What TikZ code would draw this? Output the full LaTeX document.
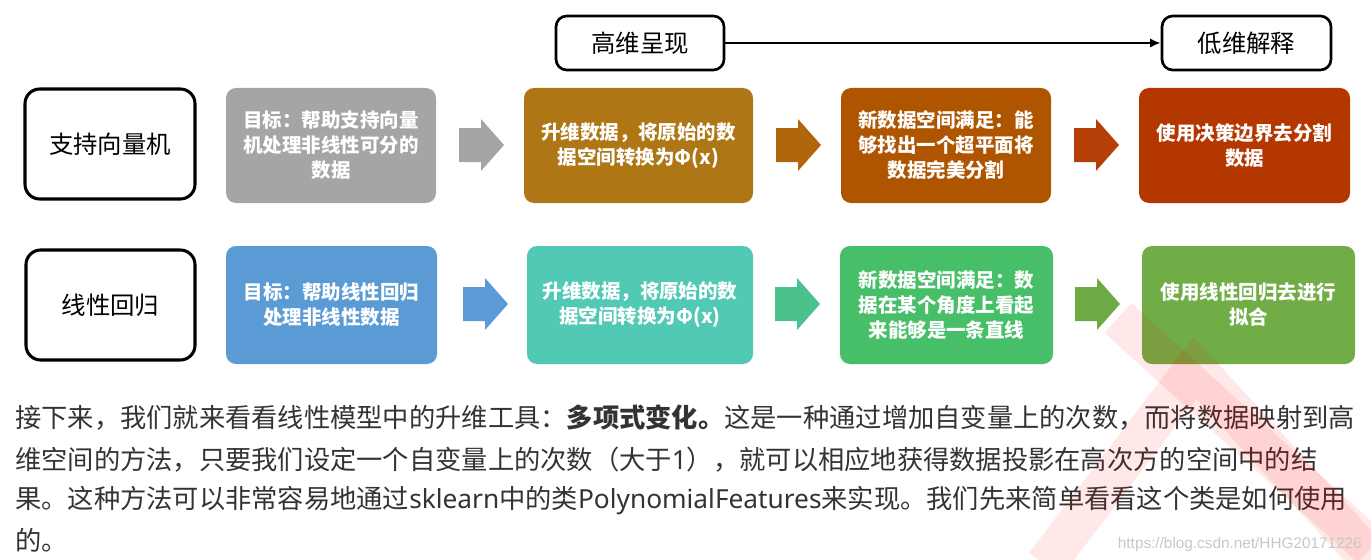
\documentclass[tikz,border=0pt]{standalone}
\usepackage{fontspec}
\setmainfont{Noto Sans CJK SC}
\newfontfamily\latn{Noto Sans}
\newfontfamily\wmfont{Liberation Sans}
\usetikzlibrary{arrows.meta}
\definecolor{cgray}{HTML}{A5A5A5}
\definecolor{cgold}{HTML}{AE7614}
\definecolor{cbrown}{HTML}{AF5500}
\definecolor{cred}{HTML}{B43700}
\definecolor{agold}{HTML}{B0660A}
\definecolor{ared}{HTML}{B44008}
\definecolor{cblue}{HTML}{5B9BD5}
\definecolor{cteal}{HTML}{52C9B4}
\definecolor{ateal}{HTML}{4BC28C}
\definecolor{cgreen}{HTML}{47BF69}
\definecolor{aolive}{HTML}{6DAA43}
\definecolor{colive}{HTML}{70AD47}
\definecolor{ctext}{HTML}{333333}
\newcommand\cbox[7]{\node[#6, minimum width={(#4-#2)*0.75pt}, minimum height={(#5-#3)*0.75pt}] (#1) at ({(#2+#4)/2},{(#3+#5)/2}) {#7};}
\newcommand\barrow[3]{\fill[#3] ({#1-22},{#2-17}) -- ({#1},{#2-17}) -- ({#1},{#2-26}) -- ({#1+23},{#2}) -- ({#1},{#2+26}) -- ({#1},{#2+17}) -- ({#1-22},{#2+17}) -- cycle;}
\begin{document}
\begin{tikzpicture}[x=0.75pt,y=-0.75pt,
  outline/.style={draw=black, line width=2.3pt, rounded corners=11pt, fill=white, inner sep=0pt,
    font=\fontsize{18.3}{22}\selectfont},
  toplabel/.style={draw=black, line width=2pt, rounded corners=8pt, fill=white, inner sep=0pt,
    font=\fontsize{18.3}{22}\selectfont},
  fillbox/.style={rounded corners=7.5pt, fill=#1, text=white, align=center, inner sep=0pt,
    font=\bfseries\fontsize{14.6}{18.75}\selectfont},
  para/.style={anchor=base west, inner sep=0pt, text=ctext, font=\fontsize{19.7}{24}\selectfont},
]
\useasboundingbox (0,0) rectangle (1371,560);

% top labels
\cbox{hi}{556}{16}{724}{70}{toplabel}{高维呈现}
\cbox{lo}{1162}{16}{1331}{70}{toplabel}{低维解释}
\draw[line width=1.5pt, -{Latex[length=8pt,width=7pt]}] (hi.east) -- (lo.west);

% row 1
\cbox{svm}{25}{89}{195}{199}{outline}{支持向量机}
\cbox{g1}{226}{88}{436}{203}{fillbox=cgray}{目标：帮助支持向量\\机处理非线性可分的\\数据}
\cbox{g2}{524}{88}{753}{203}{fillbox=cgold}{升维数据，将原始的数\\据空间转换为Φ(x)}
\cbox{g3}{841}{88}{1051}{203}{fillbox=cbrown}{新数据空间满足：能\\够找出一个超平面将\\数据完美分割}
\cbox{g4}{1139}{88}{1350}{203}{fillbox=cred}{使用决策边界去分割\\数据}
\barrow{481}{145}{cgray}
\barrow{798}{145}{agold}
\barrow{1096}{145}{ared}

% row 2
\cbox{lr}{26}{250}{195}{360}{outline}{线性回归}
\cbox{b1}{226}{246}{437}{364}{fillbox=cblue}{目标：帮助线性回归\\处理非线性数据}
\cbox{b2}{527}{246}{753}{364}{fillbox=cteal}{升维数据，将原始的数\\据空间转换为Φ(x)}
\cbox{b3}{840}{246}{1053}{364}{fillbox=cgreen}{新数据空间满足：数\\据在某个角度上看起\\来能够是一条直线}
\cbox{b4}{1142}{246}{1355}{364}{fillbox=colive}{使用线性回归去进行\\拟合}
\barrow{485}{304}{cblue}
\barrow{797}{304}{ateal}
\barrow{1097}{304}{aolive}

% paragraph
\node[para] (l1) at (15,427) {接下来，我们就来看看线性模型中的升维工具：\textbf{多项式变化。}这是一种通过增加自变量上的次数，而将数据映射到高};
\node[para] (l2) at (15,469) {维空间的方法，只要我们设定一个自变量上的次数（大于{\latn 1}），就可以相应地获得数据投影在高次方的空间中的结};
\node[para] (l3) at (15,508) {果。这种方法可以非常容易地通过{\latn sklearn}中的类{\latn PolynomialFeatures}来实现。我们先来简单看看这个类是如何使用};
\node[para] (l4) at (15,550) {的。};

% watermark
\begin{scope}[red, opacity=0.09, line width=30pt]
\draw (1118,318) -- (1371,548);
\draw (1045,565) -- (1195,368) -- (1371,560);
\end{scope}
\node[anchor=base east, inner sep=0pt, text=black!22, font=\wmfont\fontsize{11.5}{13}\selectfont] (wm) at (1362,548) {https://blog.csdn.net/HHG20171226};
\end{tikzpicture}
\end{document}
